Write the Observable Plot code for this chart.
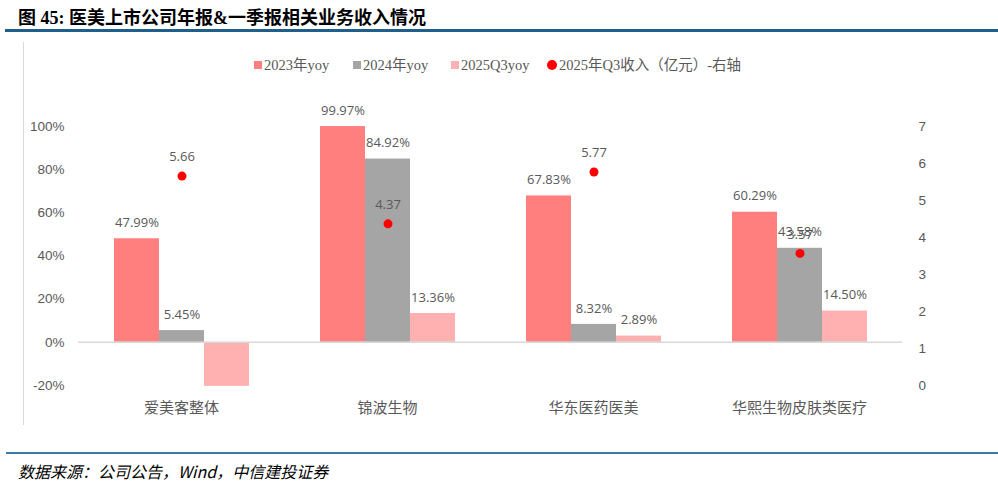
<!DOCTYPE html>
<html>
<head>
<meta charset="utf-8">
<script src="https://cdn.jsdelivr.net/npm/d3@7"></script>
<script src="https://cdn.jsdelivr.net/npm/@observablehq/plot@0.6"></script>
<style>
  html, body { margin: 0; padding: 0; background: #fff; }
  #wrap { position: relative; width: 998px; height: 484px; overflow: hidden; background: #fff; }
  #chart { position: absolute; left: 0; top: 0; }
  .abs { position: absolute; white-space: nowrap; }
  #title { left: 18px; top: 3px; font-family: "Liberation Serif", "Noto Sans CJK SC", sans-serif; font-weight: bold; font-size: 18px; color: #000; }
  #topline { left: 5px; top: 29px; width: 993px; height: 3px; background: #1F5F8B; }
  #vline { left: 23px; top: 42px; width: 1px; height: 383px; background: #D9D9D9; }
  #botline { left: 6px; top: 452px; width: 992px; height: 2px; background: #3C7BA6; }
  #caption { left: 18px; top: 459px; font-family: "Noto Sans CJK SC", sans-serif; font-style: italic; font-size: 16px; color: #000; }
  .leg { top: 56px; font-family: "Liberation Serif", "Noto Sans CJK SC", serif; font-size: 14.5px; color: #595959; line-height: 18px; }
  .sw { display: inline-block; width: 8px; height: 8px; margin-right: 2px; vertical-align: 1px; }
  .dt { display: inline-block; width: 10px; height: 10px; border-radius: 50%; margin-right: 2px; vertical-align: 0px; }
</style>
</head>
<body>
<div id="wrap">
  <div id="chart"></div>
  <div id="title" class="abs">图 45: 医美上市公司年报&amp;一季报相关业务收入情况</div>
  <div id="topline" class="abs"></div>
  <div id="vline" class="abs"></div>
  <div id="legend"></div>
  <div id="botline" class="abs"></div>
  <div id="caption" class="abs">数据来源：公司公告，Wind，中信建投证券</div>
</div>
<script>
// ---- data ----
const categories = ["爱美客整体", "锦波生物", "华东医药医美", "华熙生物皮肤类医疗"];
const seriesNames = ["2023年yoy", "2024年yoy", "2025Q3yoy"];
const yoy2023 = [47.99, 99.97, 67.83, 60.29];
const yoy2024 = [5.45, 84.92, 8.32, 43.58];
const yoy2025Q3 = [-20.4, 13.36, 2.89, 14.50];
const revenue2025Q3 = [5.66, 4.37, 5.77, 3.57];
const revenueName = "2025年Q3收入（亿元）-右轴";
const leftTicks = [-20, 0, 20, 40, 60, 80, 100];
const rightTicks = [0, 1, 2, 3, 4, 5, 6, 7];
const barColors = ["#FF7F7F", "#A5A5A5", "#FFB1B1"];
const dotColor = "#FF0000";

// right axis 0..7 maps onto left axis -20..100
const leftMin = -20, leftMax = 100, rightMin = 0, rightMax = 7;
const toLeft = v => leftMin + (v - rightMin) * (leftMax - leftMin) / (rightMax - rightMin);
const toRight = p => rightMin + (p - leftMin) * (rightMax - rightMin) / (leftMax - leftMin);

const seriesValues = [yoy2023, yoy2024, yoy2025Q3];
const bars = [];
categories.forEach((c, i) => seriesNames.forEach((s, j) => bars.push({cat: c, series: s, value: seriesValues[j][i]})));
const dots = categories.map((c, i) => ({cat: c, value: revenue2025Q3[i]}));

const font = "'Open Sans', 'Noto Sans CJK SC', sans-serif";

const chart = Plot.plot({
  width: 998,
  height: 484,
  marginLeft: 77,
  marginRight: 95,
  marginTop: 126,
  marginBottom: 99,
  style: {fontFamily: font, color: "#595959", background: "transparent", overflow: "visible"},
  fx: {domain: categories, padding: 0, label: null},
  x: {domain: seriesNames, paddingInner: 0, paddingOuter: 0.745, axis: null},
  y: {domain: [leftMin, leftMax]},
  color: {domain: seriesNames, range: barColors},
  marks: [
    Plot.axisY({anchor: "left", ticks: leftTicks, tickFormat: d => d + "%", tickSize: 0, tickPadding: 14, fontSize: 13.5, fontFamily: "'Liberation Sans', sans-serif", label: null}),
    Plot.axisY({anchor: "right", ticks: rightTicks.map(toLeft), tickFormat: d => String(Math.round(toRight(d))), tickSize: 0, tickPadding: 16, fontSize: 13.5, fontFamily: "'Liberation Sans', sans-serif", label: null}),
    Plot.barY(bars, {fx: "cat", x: "series", y: "value", fill: "series"}),
    Plot.ruleY([0], {stroke: "#D9D9D9", strokeWidth: 1.5}),
    Plot.text(bars.filter(d => d.value >= 0), {fx: "cat", x: "series", y: "value", text: d => d.value.toFixed(2) + "%", dy: -16, fontSize: 13, fill: "#595959"}),
    Plot.dot(dots, {fx: "cat", x: () => seriesNames[1], y: d => toLeft(d.value), r: 4.5, fill: dotColor, stroke: "none"}),
    Plot.text(dots, {fx: "cat", x: () => seriesNames[1], y: d => toLeft(d.value), text: d => d.value.toFixed(2), dy: -19, fontSize: 13, fill: "#595959"}),
    Plot.axisFx({anchor: "bottom", tickSize: 0, tickPadding: 17, fontSize: 15, fontFamily: "'Noto Sans CJK SC', sans-serif", label: null})
  ]
});
document.getElementById("chart").appendChild(chart);

// legend
const legend = document.getElementById("legend");
const legX = [254, 353, 451, 547];
seriesNames.forEach((s, i) => {
  const el = document.createElement("div");
  el.className = "abs leg";
  el.style.left = legX[i] + "px";
  el.innerHTML = `<span class="sw" style="background:${barColors[i]}"></span>${s}`;
  legend.appendChild(el);
});
const dl = document.createElement("div");
dl.className = "abs leg";
dl.style.left = legX[3] + "px";
dl.innerHTML = `<span class="dt" style="background:${dotColor}"></span>${revenueName}`;
legend.appendChild(dl);
</script>
</body>
</html>
